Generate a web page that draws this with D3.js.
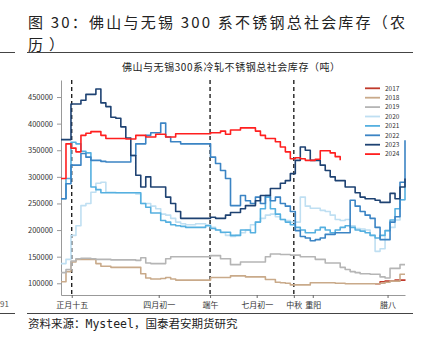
<!DOCTYPE html>
<html><head><meta charset="utf-8">
<script src="https://cdn.jsdelivr.net/npm/d3@7/dist/d3.min.js"></script>
<style>
body{margin:0;background:#fff;}
svg{display:block;}
text{font-family:"Noto Sans CJK SC","Liberation Sans",sans-serif;}
</style></head><body>
<svg id="c" width="437" height="337"></svg>
<script>
// ---- data (weekly index along the lunar year) ----
const years = ["2017","2018","2019","2020","2021","2022","2023","2024"];
const s2017 = [null,null,null,null,null,null,null,null,null,null,null,null,null,null,null,null,null,null,null,null,null,null,null,null,null,null,null,null,null,null,null,null,null,null,null,null,null,null,null,null,null,null,null,null,null,null,null,null,null,null,null,null,null,null,null,null,null,null,null,null,null,null,null,99000,103000,104000,104000,106000,106000,107000];
const s2018 = [103000,122000,140000,145000,145000,145000,145000,137000,132000,132000,130000,130000,130000,130000,130000,130000,118000,110000,108000,108000,109000,111000,108000,106000,106000,106000,106000,106000,106000,106000,111000,111000,111000,111000,114000,114000,114000,112000,112000,112000,112000,107000,107000,102000,101000,100000,97000,97000,97000,97000,101000,101000,101000,101000,101000,100000,100000,99000,99000,99000,99000,99000,99000,99000,100000,102000,104000,104000,117000,117000];
const s2019 = [120000,126000,142000,146000,147000,147000,146000,145000,145000,145000,144000,144000,144000,144000,144000,143000,148000,138000,137000,137000,137000,146000,150000,150000,150000,150000,150000,150000,150000,150000,152000,152000,146000,146000,135000,135000,140000,140000,140000,140000,140000,150000,155000,155000,154000,154000,153000,153000,150000,150000,150000,145000,145000,138000,138000,138000,130000,126000,122000,120000,118000,118000,117000,117000,112000,110000,128000,128000,135000,135000];
const s2020 = [137000,145000,190000,208000,246000,250000,271000,288000,290000,271000,271000,270000,270000,270000,270000,268000,250000,250000,245000,240000,230000,228000,222000,215000,212000,210000,210000,212000,212000,210000,205000,200000,195000,190000,188000,190000,195000,200000,210000,215000,222000,228000,230000,225000,220000,218000,215000,215000,262000,245000,241000,241000,237000,235000,228000,220000,218000,220000,208000,203000,202000,200000,190000,160000,165000,199000,205000,219000,257000,257000];
const s2021 = [259000,297000,365000,362000,348000,345000,281000,276000,270000,270000,270000,270000,270000,270000,270000,270000,250000,243000,232000,232000,218000,215000,210000,208000,207000,205000,205000,205000,205000,208000,203000,200000,196000,196000,190000,190000,200000,200000,195000,215000,240000,262000,240000,230000,220000,215000,210000,205000,200000,195000,195000,200000,205000,200000,195000,200000,205000,208000,205000,200000,198000,195000,190000,185000,190000,199000,219000,240000,257000,290000];
const s2022 = [259000,287000,322000,322000,344000,337000,331000,331000,329000,328000,328000,328000,328000,328000,340000,362000,362000,378000,383000,383000,401000,375000,366000,366000,362000,362000,362000,362000,362000,362000,337000,325000,312000,297000,246000,246000,265000,255000,250000,262000,250000,265000,255000,262000,250000,245000,235000,199000,188000,185000,180000,182000,185000,192000,192000,195000,195000,195000,256000,245000,235000,228000,222000,205000,182000,182000,215000,225000,290000,369000];
const s2023 = [370000,370000,437000,437000,444000,455000,455000,465000,439000,432000,412000,410000,394000,373000,340000,303000,281000,300000,281000,281000,281000,262000,250000,235000,222000,222000,222000,222000,222000,222000,224000,222000,222000,228000,233000,233000,240000,246000,246000,255000,265000,265000,278000,278000,288000,293000,306000,331000,356000,350000,331000,331000,322000,312000,300000,293000,293000,281000,281000,270000,262000,259000,259000,256000,252000,252000,269000,259000,281000,297000];
const s2024 = [297000,362000,354000,347000,378000,382000,385000,385000,378000,372000,372000,372000,372000,371000,371000,378000,378000,375000,375000,380000,380000,375000,375000,381000,381000,381000,381000,381000,381000,381000,383000,383000,386000,380000,388000,388000,392000,392000,392000,386000,378000,372000,372000,366000,356000,347000,334000,336000,334000,331000,331000,333000,349000,349000,345000,338000,331000];
const yTicks = [100000,150000,200000,250000,300000,350000,400000,450000];
const xTickPos = [2.15,19.6,29.9,39.25,46.7,50.5,65.5];
const xTickLabels = ["正月十五","四月初一","端午","七月初一","中秋","重阳","腊八"];
const festivalPos = [2.15,29.9,46.7];
const colors = ["#c0392b","#c9aa8a","#b5b5b5","#bfdff2","#55b0e0","#3b84c4","#1e4272","#ff1f1f"];

const series = [s2017,s2018,s2019,s2020,s2021,s2022,s2023,s2024];

const svg = d3.select("#c");

// titles and frame lines
svg.append("text").attr("x",28).attr("y",28).attr("font-size",15).attr("fill","#222")
  .attr("textLength",377).attr("lengthAdjust","spacing")
  .text("图 30：佛山与无锡 300 系不锈钢总社会库存（农");
svg.append("text").attr("x",28).attr("y",50).attr("font-size",15).attr("fill","#222").attr("textLength",36).text("历）");
[[0,15],[27,413]].forEach(([a,b])=>{
  svg.append("line").attr("x1",a).attr("x2",b).attr("y1",52.5).attr("y2",52.5).attr("stroke","#444").attr("stroke-width",1);
  svg.append("line").attr("x1",a).attr("x2",b).attr("y1",313.5).attr("y2",313.5).attr("stroke","#444").attr("stroke-width",1);
});
svg.append("text").attr("x",231).attr("y",70.5).attr("text-anchor","middle").attr("font-size",10).attr("fill","#222")
  .attr("textLength",218).text("佛山与无锡300系冷轧不锈钢总社会库存（吨）");
svg.append("text").attr("x",0).attr("y",307).attr("font-size",8).attr("fill","#555").text("91");
const src = svg.append("text").attr("x",28).attr("y",328).attr("font-size",11.5).attr("fill","#222");
src.append("tspan").text("资料来源：");
src.append("tspan").attr("font-family","'DejaVu Sans Mono','Liberation Mono',monospace").text("Mysteel");
src.append("tspan").text("，国泰君安期货研究");

// scales
const x = d3.scaleLinear().domain([0,69]).range([61,405]);
const y = d3.scaleLinear().domain([78000,482000]).range([295,80]);

// axes
const ya = svg.append("g").attr("transform","translate(61,0)")
  .call(d3.axisLeft(y).tickValues(yTicks).tickFormat(d3.format("d")).tickSize(4).tickSizeOuter(0));
ya.select(".domain").attr("stroke","#999");
ya.selectAll(".tick line").attr("stroke","#999");
ya.selectAll(".tick text").attr("font-size",7.5).attr("fill","#333").attr("font-family","'Liberation Sans',Arial,sans-serif").attr("dx",-1);

const xa = svg.append("g").attr("transform","translate(0,295)")
  .call(d3.axisBottom(x).tickValues(xTickPos).tickFormat((d,i)=>xTickLabels[i]).tickSize(3).tickSizeOuter(0));
xa.select(".domain").attr("stroke","#999");
xa.selectAll(".tick line").attr("stroke","#666");
xa.selectAll(".tick text").attr("font-size",8).attr("fill","#333").attr("dy","0.9em")
  .attr("font-family","'Noto Sans CJK SC',sans-serif");

// festival dashed lines
svg.selectAll(".fest").data(festivalPos).enter().append("line")
  .attr("x1",d=>x(d)).attr("x2",d=>x(d)).attr("y1",80).attr("y2",295)
  .attr("stroke","#111").attr("stroke-width",1.3).attr("stroke-dasharray","4,3");

// series lines
const line = d3.line().defined(d=>d.v!=null).x(d=>x(d.i)).y(d=>y(d.v)).curve(d3.curveStepAfter);
series.forEach((s,k)=>{
  const pts = s.map((v,i)=>({i,v}));
  svg.append("path").attr("d",line(pts)).attr("fill","none")
    .attr("stroke",colors[k]).attr("stroke-width",1.6).attr("stroke-linejoin","round");
});

// legend
const lg = svg.append("g");
years.forEach((yr,k)=>{
  const yy = 88.3 + k*9.4;
  lg.append("line").attr("x1",365).attr("x2",380).attr("y1",yy).attr("y2",yy).attr("stroke",colors[k]).attr("stroke-width",1.8);
  lg.append("text").attr("x",385).attr("y",yy+2.3).attr("font-size",6.5).attr("fill","#333")
    .attr("font-family","'Liberation Sans',Arial,sans-serif").text(yr);
});
</script>
</body></html>
